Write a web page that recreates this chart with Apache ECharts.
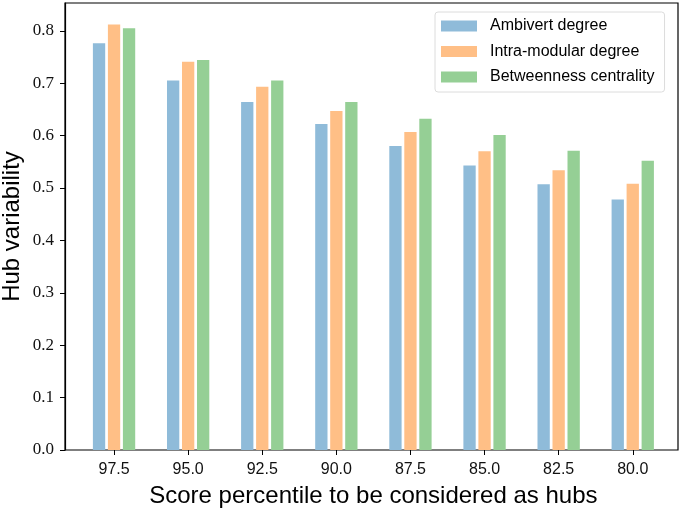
<!DOCTYPE html>
<html>
<head>
<meta charset="utf-8">
<script src="https://cdn.jsdelivr.net/npm/echarts@6/dist/echarts.min.js"></script>
<style>
html,body{margin:0;padding:0;background:#fff;}
#c{width:686px;height:511px;}
</style>
</head>
<body>
<div id="c"></div>
<script>
const categories = ['97.5','95.0','92.5','90.0','87.5','85.0','82.5','80.0'];
const ambivert = [0.776,0.705,0.664,0.622,0.580,0.543,0.507,0.478];
const intraModular = [0.812,0.741,0.693,0.647,0.607,0.570,0.534,0.508];
const betweenness = [0.805,0.744,0.705,0.664,0.632,0.601,0.571,0.552];
const seriesNames = ['Ambivert degree','Intra-modular degree','Betweenness centrality'];
const colors = ['#8fbbd9','#ffbf86','#95cf95'];
const yMax = 0.853;

const chart = echarts.init(document.getElementById('c'), null, {renderer:'canvas'});
const sans = "'Liberation Sans', Arial, sans-serif";
const serif = "'Liberation Serif', 'DejaVu Serif', serif";
const mk = (name, data, i) => ({
  name, type:'bar', data, xAxisIndex:1, yAxisIndex:1,
  barWidth:12.3, barGap:'22%',
  itemStyle:{color:colors[i]}, animation:false
});
chart.setOption({
  animation:false,
  grid:[
    {left:65, top:3, width:613, height:447, show:true, borderColor:'#000', borderWidth:1.2, backgroundColor:'transparent', containLabel:false, outerBoundsMode:'none'},
    {left:77, top:3, width:592.8, height:447, containLabel:false, outerBoundsMode:'none'}
  ],
  xAxis:[
    {type:'value', gridIndex:0, show:false, min:0, max:1},
    {type:'category', gridIndex:1, data:categories,
     axisLine:{show:false},
     axisTick:{show:true, alignWithLabel:true, length:5, lineStyle:{color:'#000', width:1}},
     axisLabel:{color:'#111', fontFamily:sans, fontSize:16, margin:12},
     name:'Score percentile to be considered as hubs', nameLocation:'middle', nameGap:34,
     nameTextStyle:{color:'#000', fontFamily:sans, fontSize:24}
    }
  ],
  yAxis:[
    {type:'value', gridIndex:0, min:0, max:yMax, interval:0.1,
     axisLine:{show:true, lineStyle:{color:'#000', width:1.2}},
     axisTick:{show:true, length:5, lineStyle:{color:'#000'}},
     splitLine:{show:false},
     axisLabel:{color:'#111', fontFamily:serif, fontSize:17, margin:11,
       formatter:v=>v.toFixed(1), showMaxLabel:false},
     name:'Hub variability', nameLocation:'middle', nameGap:41, nameMoveOverlap:false,
     nameTextStyle:{color:'#000', fontFamily:sans, fontSize:24}
    },
    {type:'value', gridIndex:1, min:0, max:yMax, show:false}
  ],
  legend:{
    left:435, top:12, orient:'vertical',
    data:seriesNames,
    icon:'rect', itemWidth:36, itemHeight:11, itemGap:9.5,
    padding:[6,10,7,6],
    borderColor:'#dcdcdc', borderWidth:1, borderRadius:3,
    textStyle:{color:'#000', fontFamily:sans, fontSize:16, lineHeight:16, padding:[0,0,0,8]}
  },
  series:[mk(seriesNames[0], ambivert, 0), mk(seriesNames[1], intraModular, 1), mk(seriesNames[2], betweenness, 2)]
});
</script>
</body>
</html>
